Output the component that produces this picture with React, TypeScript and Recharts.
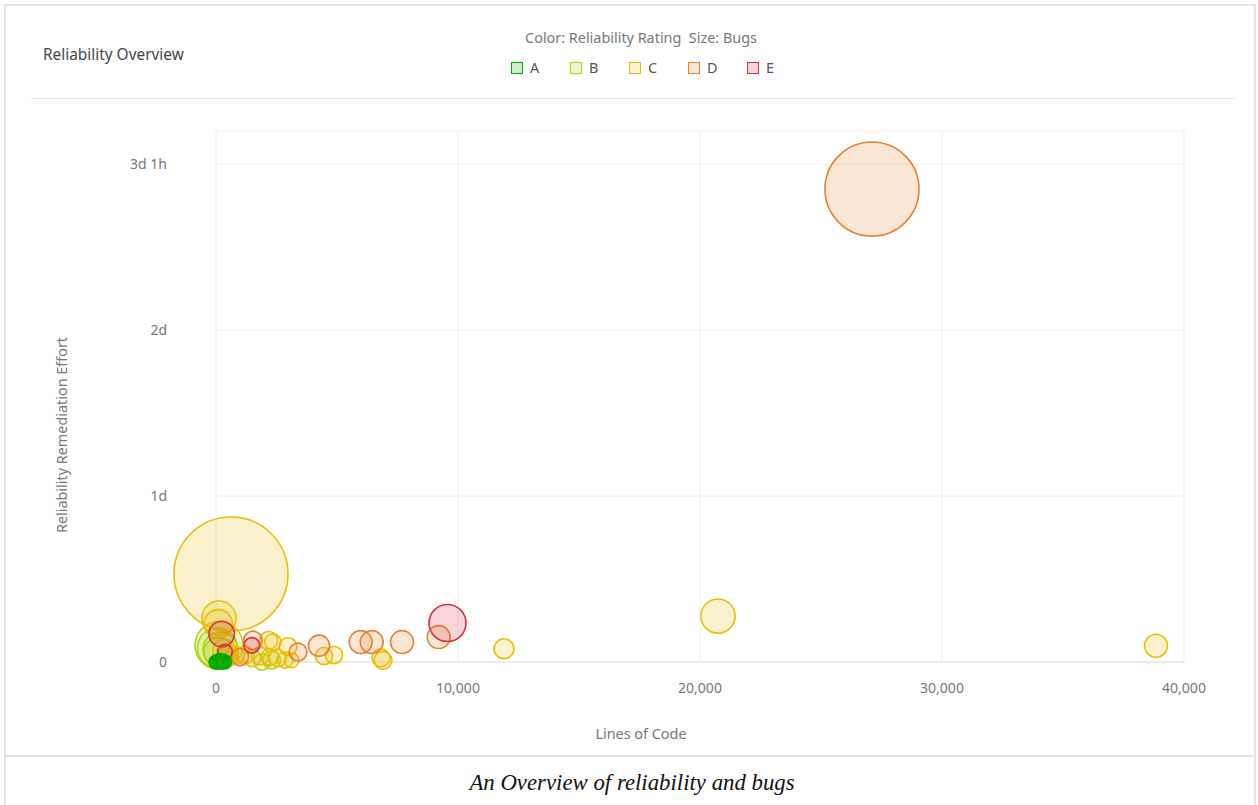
import React from "react"
import { ScatterChart, Scatter, XAxis, YAxis, ZAxis, CartesianGrid, Label } from "recharts"

// lines of code, remediation effort (days), bugs
const ratingA = [
  { loc: 0, effort: 0, bugs: 0 },
  { loc: 60, effort: 0, bugs: 0 },
  { loc: 120, effort: 0.004, bugs: 0 },
  { loc: 200, effort: 0, bugs: 0 },
  { loc: 280, effort: 0.006, bugs: 0 },
  { loc: 350, effort: 0, bugs: 0 },
  { loc: 150, effort: 0.01, bugs: 0 },
  { loc: 250, effort: 0.002, bugs: 0 },
]

const ratingB = [
  { loc: 124, effort: 0.1, bugs: 82 },
  { loc: 60, effort: 0.085, bugs: 55 },
  { loc: 180, effort: 0.075, bugs: 40 },
  { loc: 100, effort: 0.06, bugs: 25 },
  { loc: 2300, effort: 0.012, bugs: 5 },
  { loc: 1900, effort: 0, bugs: 3 },
]

const ratingC = [
  { loc: 620, effort: 0.53, bugs: 500 },
  { loc: 124, effort: 0.265, bugs: 38 },
  { loc: 90, effort: 0.23, bugs: 24 },
  { loc: 20743, effort: 0.277, bugs: 38 },
  { loc: 38843, effort: 0.098, bugs: 13 },
  { loc: 11900, effort: 0.08, bugs: 8 },
  { loc: 6818, effort: 0.025, bugs: 5 },
  { loc: 6900, effort: 0.01, bugs: 5 },
  { loc: 4463, effort: 0.036, bugs: 4 },
  { loc: 4876, effort: 0.042, bugs: 4 },
  { loc: 2975, effort: 0.092, bugs: 5 },
  { loc: 3127, effort: 0.01, bugs: 1 },
  { loc: 2177, effort: 0.13, bugs: 5 },
  { loc: 2350, effort: 0.12, bugs: 3 },
  { loc: 785, effort: 0.042, bugs: 5 },
  { loc: 1198, effort: 0.042, bugs: 5 },
  { loc: 1488, effort: 0.024, bugs: 4 },
  { loc: 1818, effort: 0.036, bugs: 5 },
  { loc: 2231, effort: 0.03, bugs: 4 },
  { loc: 2562, effort: 0.024, bugs: 4 },
  { loc: 2851, effort: 0.012, bugs: 3 },
  { loc: 330, effort: 0.07, bugs: 12 },
  { loc: 500, effort: 0.04, bugs: 8 },
]

const ratingD = [
  { loc: 27107, effort: 2.85, bugs: 338 },
  { loc: 9202, effort: 0.15, bugs: 13 },
  { loc: 7686, effort: 0.12, bugs: 13 },
  { loc: 5979, effort: 0.12, bugs: 13 },
  { loc: 6434, effort: 0.12, bugs: 13 },
  { loc: 4256, effort: 0.098, bugs: 10 },
  { loc: 3388, effort: 0.06, bugs: 5 },
  { loc: 1529, effort: 0.13, bugs: 6 },
  { loc: 990, effort: 0.03, bugs: 4 },
]

const ratingE = [
  { loc: 9566, effort: 0.235, bugs: 46 },
  { loc: 235, effort: 0.169, bugs: 18 },
  { loc: 1480, effort: 0.1, bugs: 2 },
  { loc: 372, effort: 0.062, bugs: 1 },
]

const ratings = ["A", "B", "C", "D", "E"]
const ratingColors = ["#00aa00", "#b0d513", "#eabe06", "#e8802e", "#d4333f"]

const xTicks = [0, 10000, 20000, 30000, 40000]
const yTicks = [0, 1, 2, 3]
const yTickLabels = ["0", "1d", "2d", "3d 1h"]

const font = "'Noto Sans', 'Open Sans', sans-serif"

export default function App() {
  const series = [ratingB, ratingC, ratingD, ratingE, ratingA]
  const seriesIdx = [1, 2, 3, 4, 0]

  return (
    <div style={{ position: "absolute", left: 0, top: 0, width: 1258, height: 805, background: "#fff", overflow: "hidden" }}>
      {/* frame */}
      <div style={{ position: "absolute", left: 4, top: 4, width: 1248, height: 820, border: "2px solid #e3e3e3" }} />
      <div style={{ position: "absolute", left: 4, top: 755, width: 1252, height: 2, background: "#e3e3e3" }} />

      {/* header */}
      <div style={{ position: "absolute", left: 43, top: 44, fontFamily: font, fontSize: 15.4, color: "#444" }}>
        Reliability Overview
      </div>
      <div style={{ position: "absolute", left: 0, width: 1282, top: 28, textAlign: "center", fontFamily: font, fontSize: 14.4, color: "#777" }}>
        Color: Reliability Rating&nbsp;&nbsp;Size: Bugs
      </div>
      <div style={{ position: "absolute", left: 511, top: 58, display: "flex", fontFamily: font, fontSize: 14.4, color: "#555" }}>
        {ratings.map((r, i) => (
          <div key={r} style={{ display: "flex", alignItems: "center", width: 59 }}>
            <span
              style={{
                width: 10,
                height: 10,
                border: `1px solid ${ratingColors[i]}`,
                background: ratingColors[i] + "33",
                marginRight: 7,
              }}
            />
            <span>{r}</span>
          </div>
        ))}
      </div>
      <div style={{ position: "absolute", left: 31, top: 98, width: 1204, height: 1, background: "#e6e6e6" }} />

      <div style={{ position: "absolute", left: 0, top: 0 }}>
        <ScatterChart width={1258} height={805} margin={{ top: 131, right: 74, bottom: 0, left: 0 }}>
          <CartesianGrid stroke="#ededed" strokeWidth={1} />
          <XAxis
            type="number"
            dataKey="loc"
            domain={[0, 40000]}
            ticks={xTicks}
            tickFormatter={(v) => v.toLocaleString("en-US")}
            height={143}
            tickSize={0}
            tickMargin={21}
            tickLine={false}
            axisLine={{ stroke: "#e2e2e2" }}
            tick={{ fill: "#777", fontSize: 14, fontFamily: font }}
          >
            <Label
              content={() => (
                <text x={641} y={739} textAnchor="middle" fill="#777" fontSize={14.4} fontFamily={font}>
                  Lines of Code
                </text>
              )}
            />
          </XAxis>
          <YAxis
            type="number"
            dataKey="effort"
            domain={[0, 3.2]}
            ticks={yTicks}
            tickFormatter={(v) => yTickLabels[yTicks.indexOf(v)]}
            width={216}
            tickSize={0}
            tickMargin={49}
            tickLine={false}
            axisLine={false}
            tick={{ fill: "#777", fontSize: 14, fontFamily: font }}
          >
            <Label
              content={() => (
                <text
                  x={67}
                  y={435}
                  transform="rotate(-90 67 435)"
                  textAnchor="middle"
                  fill="#777"
                  fontSize={14.4}
                  fontFamily={font}
                >
                  Reliability Remediation Effort
                </text>
              )}
            />
          </YAxis>
          <ZAxis type="number" dataKey="bugs" domain={[0, 500]} range={[150, 10207]} />
          {series.map((data, k) => {
            const c = ratingColors[seriesIdx[k]]
            return (
              <Scatter
                key={ratings[seriesIdx[k]]}
                name={ratings[seriesIdx[k]]}
                data={data}
                fill={c}
                fillOpacity={0.2}
                stroke={c}
                strokeWidth={1.6}
                isAnimationActive={false}
              />
            )
          })}
        </ScatterChart>
      </div>

      {/* caption */}
      <div
        style={{
          position: "absolute",
          left: 0,
          width: 1264,
          top: 770,
          textAlign: "center",
          fontFamily: "'Liberation Serif', serif",
          fontStyle: "italic",
          fontSize: 22.8,
          color: "#111",
        }}
      >
        An Overview of reliability and bugs
      </div>
    </div>
  )
}
